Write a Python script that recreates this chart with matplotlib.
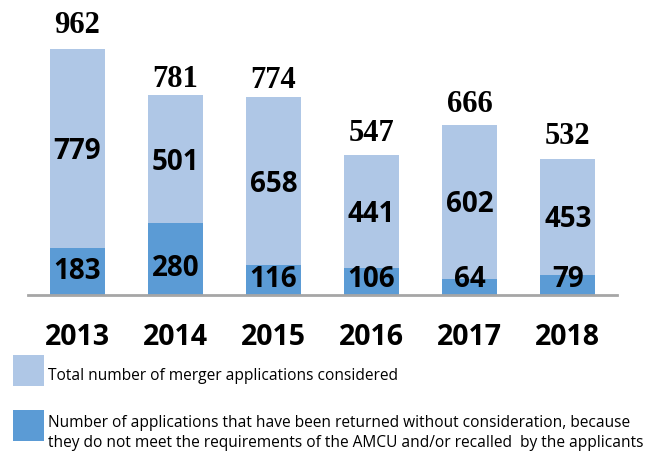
import matplotlib
matplotlib.use("Agg")
import matplotlib.pyplot as plt
from matplotlib.patches import Rectangle

years = ["2013", "2014", "2015", "2016", "2017", "2018"]
returned = [183, 280, 116, 106, 64, 79]
considered = [779, 501, 658, 441, 602, 453]
totals = [962, 781, 774, 547, 666, 532]
legend_labels = [
    "Total number of merger applications considered",
    "Number of applications that have been returned without consideration, because",
    "they do not meet the requirements of the AMCU and/or recalled  by the applicants",
]

# layout: gap (pixels) between bar top and total label
total_gap_px = [16, 8, 9, 14, 13, 15]

light = "#AFC7E6"
dark = "#5B9BD5"

fig = plt.figure(figsize=(6.68, 4.55), dpi=100)
ax = fig.add_axes([28/668, 160/455, 589/668, 295/455])
x = range(len(years))
ax.bar(x, returned, width=0.56, color=dark)
ax.bar(x, considered, width=0.56, bottom=returned, color=light)
ax.set_xlim(-0.5, 5.5)
ax.set_ylim(0, 1154)
for s in ["top", "left", "right"]:
    ax.spines[s].set_visible(False)
ax.spines["bottom"].set_color("#A6A6A6")
ax.spines["bottom"].set_linewidth(2)
ax.set_yticks([])
ax.set_xticks(list(x))
ax.set_xticklabels(years, fontsize=20.5, fontweight="bold", family="Open Sans")
ax.tick_params(axis="x", length=0, pad=20)

for i in x:
    r, c, t = returned[i], considered[i], totals[i]
    ax.text(i, min(max(r / 2, 62), 105), str(r), ha="center", va="center",
            fontsize=20, fontweight="bold", family="Open Sans")
    ax.text(i, r + c / 2 - 12, str(c), ha="center", va="center",
            fontsize=20, fontweight="bold", family="Open Sans")
    ax.annotate(str(t), (i, t), xytext=(0, total_gap_px[i] * 0.72),
                textcoords="offset points", ha="center", va="baseline",
                fontsize=22, fontweight="bold", family="Liberation Serif")

# legend
def fy(py):
    return 1 - py / 455

fig.add_artist(Rectangle((13/668, fy(386)), 31/668, 31/455,
                         transform=fig.transFigure, color=light, lw=0))
fig.add_artist(Rectangle((13/668, fy(441)), 31/668, 31/455,
                         transform=fig.transFigure, color=dark, lw=0))
for lab, base in zip(legend_labels, [380, 427, 447]):
    fig.text(48/668, fy(base), lab, ha="left", va="baseline", fontsize=11.2,
             family="Open Sans")

fig.savefig("out.png", dpi=100)
